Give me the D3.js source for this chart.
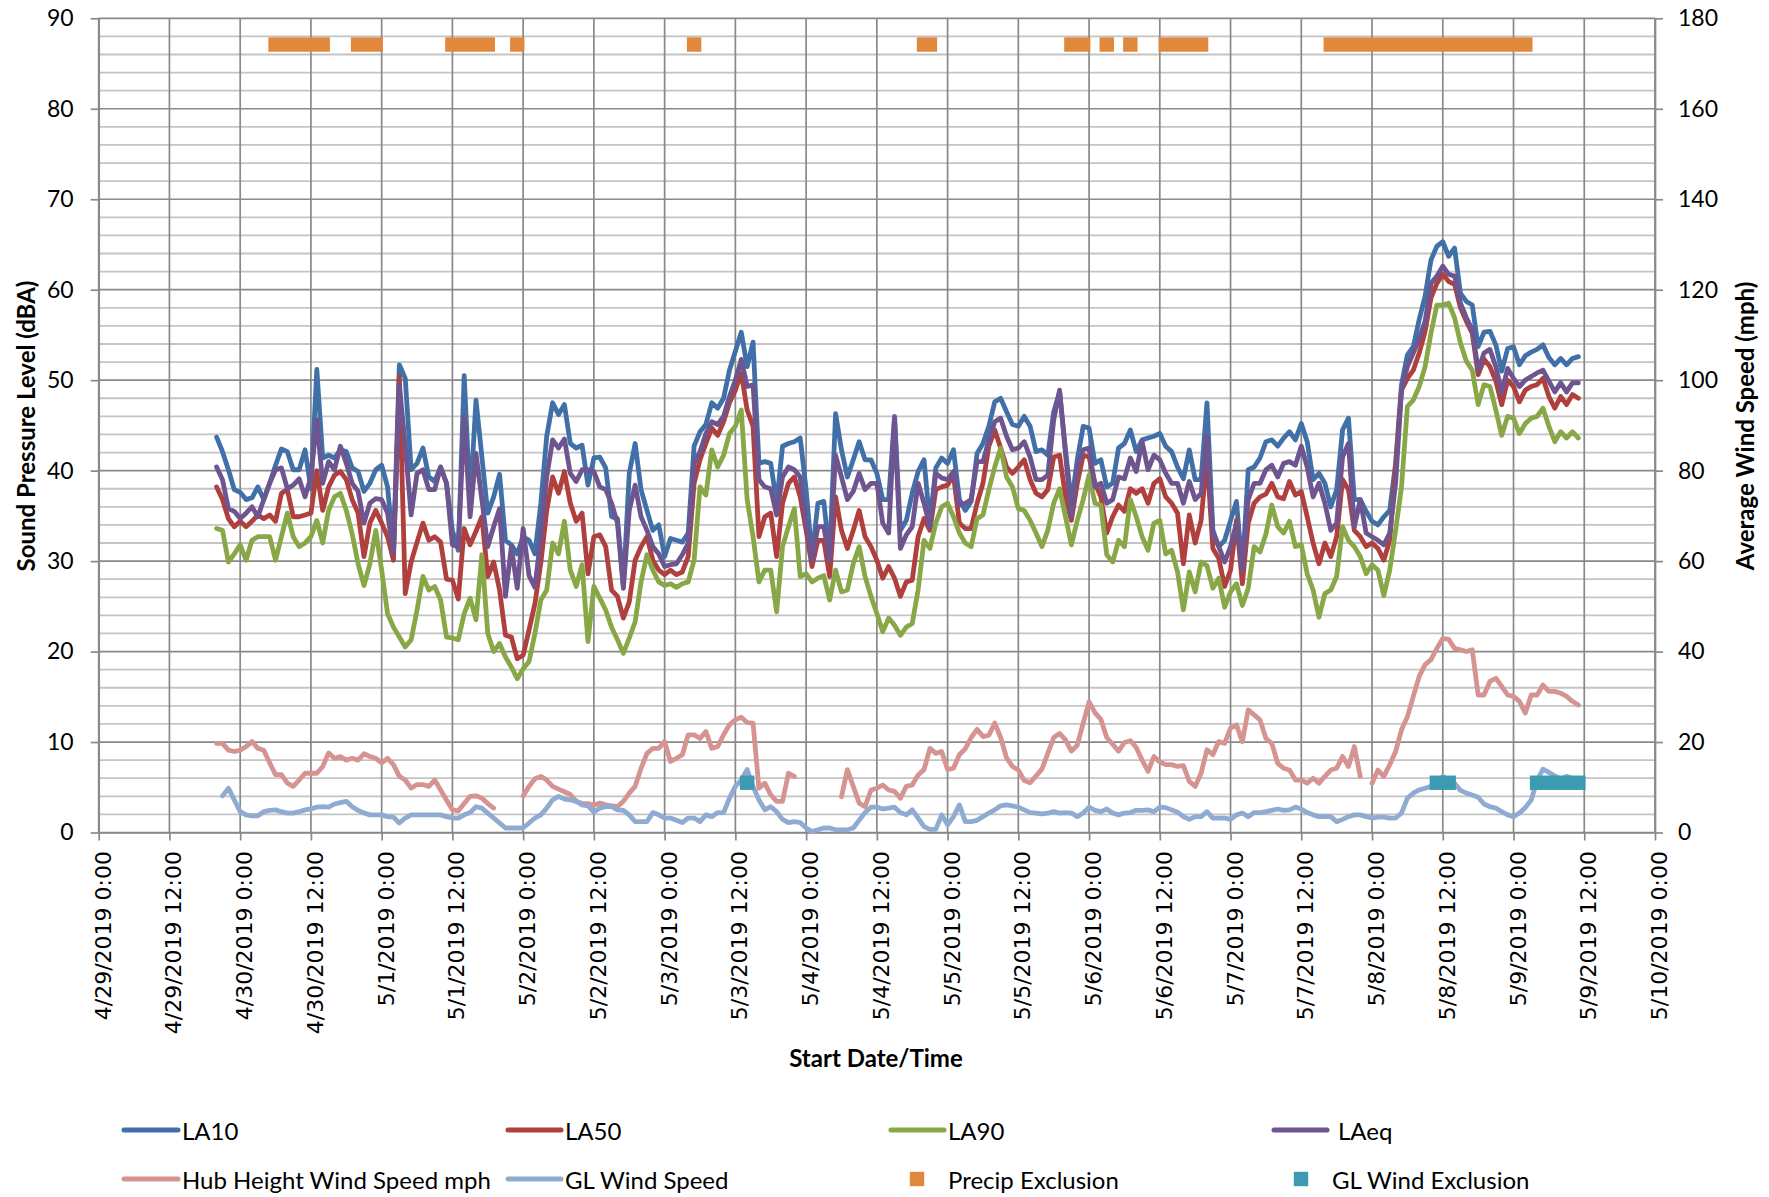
<!DOCTYPE html>
<html><head><meta charset="utf-8">
<script src="https://cdn.jsdelivr.net/npm/d3@7"></script>
<style>body{margin:0;background:#fff}svg{display:block}</style>
</head><body>
<svg id="c" width="1769" height="1197"></svg>
<script>
// ---------------- DATA ----------------
const seriesStart = "4/29/2019 20:00"; // first hourly sample
const xTickLabels = ["4/29/2019 0:00","4/29/2019 12:00","4/30/2019 0:00","4/30/2019 12:00","5/1/2019 0:00","5/1/2019 12:00","5/2/2019 0:00","5/2/2019 12:00","5/3/2019 0:00","5/3/2019 12:00","5/4/2019 0:00","5/4/2019 12:00","5/5/2019 0:00","5/5/2019 12:00","5/6/2019 0:00","5/6/2019 12:00","5/7/2019 0:00","5/7/2019 12:00","5/8/2019 0:00","5/8/2019 12:00","5/9/2019 0:00","5/9/2019 12:00","5/10/2019 0:00"];
const leftTicks = [0,10,20,30,40,50,60,70,80,90];
const rightTicks = [0,20,40,60,80,100,120,140,160,180];

const la10 = [43.7,42.1,40.1,37.9,37.6,36.8,37.0,38.2,36.8,38.6,40.6,42.4,
42.1,40.1,40.1,42.3,38.0,51.2,41.4,41.7,41.4,42.3,42.1,40.3,
39.9,37.7,38.6,40.1,40.6,38.2,31.2,51.7,50.2,40.1,40.8,42.5,
39.3,38.8,40.4,38.6,33.4,31.2,50.5,36.4,47.8,41.5,35.3,37.1,
39.6,32.3,31.8,30.8,32.7,32.3,30.8,36.4,43.8,47.5,46.2,47.3,
43.0,42.5,42.8,38.4,41.4,41.5,40.3,34.9,34.7,27.2,39.7,43.0,
37.9,35.6,33.4,34.0,30.5,32.5,32.3,32.1,33.1,42.7,44.3,45.1,
47.5,46.9,48.0,51.1,53.2,55.3,51.5,54.2,40.8,41.0,40.8,36.4,
42.7,43.0,43.2,43.6,37.9,30.5,36.4,36.6,30.5,46.3,42.3,39.3,
41.2,43.2,41.2,41.2,39.7,36.8,36.8,46.0,33.4,34.5,37.5,39.9,
41.2,34.2,40.3,41.4,40.8,42.3,36.8,35.6,36.6,41.9,43.0,44.9,
47.6,48.0,46.5,45.1,44.9,46.0,44.9,42.1,42.3,41.7,46.5,48.7,
42.3,36.4,41.2,44.9,44.7,40.8,41.2,38.2,38.6,42.5,43.0,44.5,
42.1,43.4,43.6,43.8,44.1,42.7,42.1,40.4,39.1,42.3,39.0,39.0,
47.5,33.4,31.6,32.3,34.5,36.6,29.0,40.1,40.4,41.4,43.2,43.4,
42.7,43.6,44.3,43.4,45.2,43.2,39.0,39.7,38.6,36.0,37.9,44.5,
45.8,36.8,36.8,35.5,34.4,34.0,34.9,35.6,40.8,49.5,52.8,53.7,
56.7,59.3,63.3,64.8,65.3,63.7,64.6,59.6,58.7,58.3,53.7,55.3,
55.4,53.9,51.0,53.5,53.7,51.7,52.7,53.1,53.4,53.9,52.5,51.7,
52.4,51.7,52.4,52.6];

const la50 = [38.2,36.8,34.7,33.8,34.4,33.8,34.4,35.1,34.7,35.1,34.4,37.5,
37.9,34.9,34.9,35.1,35.3,40.0,35.6,38.2,39.5,39.9,39.0,36.8,
35.3,30.5,34.2,35.6,34.2,32.7,30.1,50.4,26.4,29.9,32.1,34.2,
32.3,32.7,32.1,28.0,27.9,25.8,33.6,31.8,33.3,34.9,28.3,29.9,
26.8,21.8,21.6,19.2,19.6,22.4,25.3,29.8,35.6,39.3,37.5,39.9,
36.4,34.4,35.3,28.6,32.7,32.9,31.6,26.8,26.1,23.7,25.5,30.1,
31.6,32.7,30.1,29.0,28.5,29.0,28.5,28.8,30.5,38.6,41.2,43.0,
44.7,43.9,45.4,47.5,48.9,50.8,46.7,44.9,32.7,34.9,35.3,30.5,
36.4,38.6,39.3,37.1,33.4,29.4,32.3,32.3,28.3,37.1,33.4,31.4,
33.4,35.6,32.7,31.6,30.1,28.1,29.4,28.1,26.1,27.7,27.9,32.7,
34.7,33.4,37.9,38.2,38.4,39.5,34.2,33.6,33.6,36.4,38.6,42.7,
44.5,42.5,40.4,39.7,40.4,41.2,39.0,37.5,37.1,37.9,41.5,41.7,
37.1,34.5,38.6,41.7,41.5,38.6,37.1,33.1,34.9,36.2,35.5,38.0,
37.5,38.0,36.4,38.6,39.1,37.1,36.4,35.3,29.7,35.1,32.0,34.5,
41.5,31.4,30.3,27.2,29.0,34.5,27.5,34.2,36.4,37.1,37.4,38.6,
37.1,36.9,38.8,37.3,37.7,34.9,32.0,29.7,32.0,30.5,32.7,39.0,
37.9,33.4,32.7,31.6,32.0,31.4,30.1,32.3,40.4,48.9,50.2,51.1,
53.0,55.4,59.1,60.7,61.7,60.9,60.6,58.0,56.5,55.2,50.6,52.3,
51.5,49.9,47.3,50.0,49.3,47.6,48.9,49.3,49.5,50.2,48.2,46.9,
48.2,47.3,48.4,48.0];

const la90 = [33.6,33.4,29.9,30.8,31.8,30.1,32.3,32.7,32.7,32.7,30.1,32.7,
35.3,32.7,31.6,32.0,32.7,34.5,32.0,35.6,37.1,37.5,35.6,33.0,
29.7,27.3,29.7,33.4,29.0,24.2,22.7,21.6,20.5,21.3,24.6,28.3,
26.8,27.2,25.7,21.6,21.5,21.3,24.2,25.9,23.5,30.7,22.0,20.0,
20.9,19.4,18.3,17.0,18.1,18.9,22.0,25.7,26.8,32.0,30.8,34.4,
29.0,27.2,29.6,21.1,27.2,25.9,24.6,22.7,21.3,19.8,21.5,23.3,
27.7,30.7,29.0,27.7,27.3,27.5,27.1,27.5,27.7,30.1,38.2,37.3,
42.3,40.4,41.7,44.1,44.9,46.7,36.8,32.7,27.7,29.0,29.0,24.4,
31.6,33.8,35.8,28.3,28.6,27.7,28.1,28.4,25.7,29.0,26.6,26.8,
29.7,31.6,28.3,26.1,24.2,22.2,23.7,22.9,21.8,22.7,23.1,26.8,
32.3,31.4,34.2,36.0,36.4,34.9,33.1,32.0,31.6,34.7,35.1,37.9,
40.4,42.5,39.3,38.2,35.8,35.6,34.5,33.1,31.6,33.4,36.4,38.0,
34.9,31.8,34.5,36.8,39.5,36.4,36.2,30.7,29.9,32.3,31.6,36.8,
34.9,32.7,31.2,34.2,34.5,30.8,31.2,28.8,24.6,28.8,26.6,29.9,
29.5,27.0,28.1,24.9,26.6,27.5,25.1,27.0,31.6,31.0,33.0,36.2,
33.8,33.1,34.4,31.6,31.8,28.6,26.8,23.8,26.4,26.8,28.3,33.8,
32.3,31.6,30.5,28.6,29.6,29.0,26.2,29.0,33.4,38.2,47.1,47.8,
49.3,51.5,55.2,58.3,58.3,58.5,56.9,54.1,52.1,51.1,47.3,49.5,
49.3,46.7,43.9,46.0,45.8,44.1,45.2,45.8,46.0,46.9,44.9,43.2,
44.3,43.6,44.3,43.6];

const laeq = [40.4,39.0,35.8,35.5,34.7,35.3,36.0,34.9,36.8,38.6,40.1,40.3,
38.0,38.4,39.1,37.1,39.3,45.6,38.6,41.0,40.1,42.7,40.8,38.6,
37.7,34.2,36.4,36.9,36.8,35.3,30.8,49.5,42.7,35.1,39.7,40.1,
37.9,37.9,40.4,38.6,31.8,31.6,46.0,34.9,41.9,36.8,31.6,33.8,
35.8,26.1,31.6,27.0,33.6,28.4,27.1,32.7,39.3,43.4,42.5,43.5,
39.7,38.8,40.1,40.1,39.9,38.2,37.9,36.4,34.2,27.0,35.6,38.4,
34.9,33.4,31.6,30.8,29.4,29.6,29.7,30.7,32.0,40.8,42.1,44.1,
45.4,45.1,46.0,48.2,50.0,52.3,49.3,49.5,39.0,38.2,38.0,35.1,
39.3,40.4,40.1,39.3,34.2,30.1,33.8,33.8,30.1,41.7,39.3,36.8,
37.7,39.7,37.9,38.6,38.6,34.2,33.1,45.8,31.4,32.9,33.8,38.6,
36.4,33.8,39.7,39.2,39.0,39.9,36.2,36.4,36.8,41.0,41.0,43.4,
45.4,45.8,43.8,42.3,42.5,43.2,41.5,39.0,39.0,39.5,45.6,48.9,
41.9,34.9,40.4,42.3,42.5,38.2,38.6,36.4,36.8,39.3,39.1,41.4,
39.9,43.2,40.1,41.7,41.2,39.7,38.6,38.6,36.4,38.8,36.8,37.5,
43.8,33.1,31.6,29.9,31.6,34.2,29.0,36.8,38.6,38.6,40.1,40.6,
39.3,40.8,41.0,40.6,42.7,40.4,37.1,38.6,36.4,33.4,34.2,41.5,
43.0,33.8,36.8,33.1,32.7,32.3,31.8,33.1,38.6,48.9,51.5,53.0,
54.6,56.5,60.7,61.5,62.6,61.7,61.5,58.5,56.9,55.6,51.1,53.0,
53.4,51.5,48.6,51.3,50.2,49.3,50.0,50.4,50.8,51.1,49.9,48.7,
49.7,48.7,49.7,49.7];

// wind speeds in mph (right axis); null = no data
const hubWind = [19.7,19.7,18.2,17.9,18.2,19.0,20.1,18.6,18.2,15.4,12.8,12.8,
10.9,10.2,11.6,13.1,13.1,13.1,14.6,17.6,16.4,16.8,16.0,16.4,
16.0,17.4,16.8,16.4,15.4,16.4,15.0,12.4,11.6,9.8,10.6,10.6,
10.2,11.6,9.4,7.2,5.0,4.8,6.4,8.0,8.1,7.6,6.4,5.4,
null,null,null,null,8.1,10.2,11.9,12.4,11.6,10.2,9.6,9.0,
8.4,6.9,6.4,6.4,6.0,6.5,6.1,5.9,5.7,6.9,8.7,10.2,
14.2,17.5,18.6,18.6,20.1,15.7,16.4,17.2,21.6,21.6,20.8,22.3,
18.6,19.0,21.6,23.8,24.9,25.5,24.3,24.2,9.8,10.9,8.3,6.9,
6.9,13.1,12.4,null,null,null,null,null,null,null,7.9,13.9,
10.2,6.5,5.7,9.4,9.8,10.5,9.4,9.1,7.6,10.2,10.5,12.7,
13.9,18.6,17.5,17.9,13.9,14.2,17.2,18.5,21.0,22.8,21.2,21.5,
24.2,21.0,16.5,14.6,13.8,11.5,11.0,12.5,14.0,17.5,21.0,21.9,
20.5,18.0,19.3,24.2,28.9,26.5,25.0,21.0,19.5,18.0,19.9,20.3,
18.8,16.0,13.5,16.8,15.6,15.0,15.0,14.6,14.8,11.3,10.2,13.1,
18.3,17.2,20.1,19.7,23.1,23.8,20.1,27.1,26.0,24.9,20.8,19.7,
15.3,14.2,13.8,11.6,11.6,10.9,12.0,10.9,12.4,13.8,14.2,16.8,
14.6,19.0,12.4,null,10.9,13.8,12.4,15.0,17.9,22.7,25.6,30.1,
34.5,37.1,38.2,40.7,42.9,42.7,40.7,40.4,40.0,40.4,30.4,30.4,
33.4,34.1,32.3,30.4,30.1,29.0,26.4,30.4,30.4,32.6,31.2,31.2,
30.8,30.1,29.0,28.2];

const glWind = [null,8.1,9.8,7.2,4.6,3.9,3.7,3.7,4.6,4.9,5.0,4.6,
4.3,4.3,4.6,5.0,5.2,5.6,5.7,5.6,6.3,6.6,6.9,5.7,
4.9,4.3,3.9,3.9,3.9,3.5,3.4,2.1,3.2,3.9,3.9,3.9,
3.9,3.9,3.9,3.5,3.2,3.2,3.9,4.4,5.7,5.4,4.3,3.2,
2.1,1.0,1.0,1.0,1.0,2.1,3.2,3.9,5.4,7.2,8.0,7.4,
7.2,6.9,6.1,5.9,4.5,5.4,5.7,5.7,5.0,4.9,3.9,2.4,
2.4,2.4,4.4,3.9,3.2,3.2,2.7,2.2,3.2,3.2,2.4,3.9,
3.5,4.4,4.4,7.6,10.2,11.6,13.9,10.2,7.2,5.0,5.7,4.6,
2.9,2.2,2.4,2.2,1.0,0.2,0.6,1.0,1.0,0.6,0.6,0.6,
1.0,2.7,4.4,5.6,5.6,5.2,5.4,5.6,4.4,3.9,5.0,3.2,
1.3,0.7,0.7,3.9,1.7,3.5,6.1,2.4,2.4,2.7,3.5,4.3,
5.0,5.9,6.1,5.9,5.6,5.0,4.4,4.3,4.1,4.3,4.6,4.3,
4.4,4.3,3.5,4.3,5.6,4.9,4.6,5.2,4.3,3.9,4.3,4.4,
4.9,4.9,5.0,4.6,5.6,5.5,5.0,4.5,3.5,2.9,3.5,3.5,
4.6,3.2,3.2,3.2,2.9,3.9,4.3,3.5,4.4,4.4,4.6,4.9,
5.2,4.9,5.0,5.6,5.2,4.4,3.9,3.5,3.5,3.5,2.4,2.9,
3.5,3.9,3.9,3.5,3.2,3.4,3.4,3.2,3.2,4.3,7.6,8.7,
9.4,9.8,10.2,10.3,12.4,11.6,10.9,9.3,8.7,8.3,7.8,6.3,
5.7,5.4,4.6,3.9,3.5,4.3,5.5,7.2,11.5,14.0,13.3,12.5,
11.8,12.4,12.0,11.6];

// exclusion flags (hourly markers at a fixed level)
const precipLevel = 87.1;   // dBA, left axis
const glExclLevel = 11.0;   // mph, right axis
const precipPeriods = [["4/30/2019 6:00","4/30/2019 14:00"],["4/30/2019 20:00","4/30/2019 23:00"],["5/1/2019 12:00","5/1/2019 18:00"],["5/1/2019 23:00","5/1/2019 23:00"],["5/3/2019 5:00","5/3/2019 5:00"],["5/4/2019 20:00","5/4/2019 21:00"],["5/5/2019 21:00","5/5/2019 23:00"],["5/6/2019 3:00","5/6/2019 3:00"],["5/6/2019 7:00","5/6/2019 7:00"],["5/6/2019 13:00","5/6/2019 19:00"],["5/7/2019 17:00","5/9/2019 2:00"]];
const glExclPeriods = [["5/3/2019 14:00","5/3/2019 14:00"],["5/8/2019 11:00","5/8/2019 13:00"],["5/9/2019 4:00","5/9/2019 11:00"]];

// ---------------- CHART ----------------
const L = 98.7, R = 1655, T = 18.3, B = 832.5;
const svg = d3.select("#c");
const parse = d3.timeParse("%m/%d/%Y %H:%M");
const xDates = xTickLabels.map(parse);
const t0 = parse(seriesStart);
const times = la10.map((_, i) => d3.timeHour.offset(t0, i));

const x = d3.scaleTime().domain([xDates[0], xDates[xDates.length - 1]]).range([L, R]);
const yL = d3.scaleLinear().domain([0, 90]).range([B, T]);
const yR = d3.scaleLinear().domain([0, 180]).range([B, T]);

const gridMajor = "#898989", gridMinor = "#c4c4c4";
const grid = svg.append("g");
const minorVals = d3.range(2, 90, 2).filter(v => v % 10 !== 0);
grid.selectAll("line.mn").data(minorVals).join("line").attr("class", "mn")
  .attr("x1", L).attr("x2", R).attr("y1", d => yL(d)).attr("y2", d => yL(d))
  .attr("stroke", gridMinor).attr("stroke-width", 1.8);
grid.selectAll("line.mj").data(leftTicks).join("line").attr("class", "mj")
  .attr("x1", L).attr("x2", R).attr("y1", d => yL(d)).attr("y2", d => yL(d))
  .attr("stroke", gridMajor).attr("stroke-width", 1.7);
grid.selectAll("line.vg").data(xDates).join("line").attr("class", "vg")
  .attr("x1", d => x(d)).attr("x2", d => x(d)).attr("y1", T).attr("y2", B)
  .attr("stroke", gridMajor).attr("stroke-width", 1.7);

function styleAxis(g, size, family) {
  g.attr("font-size", size).attr("font-family", family);
  g.select(".domain").attr("stroke", gridMajor).attr("stroke-width", 1.7);
  g.selectAll(".tick line").attr("stroke", gridMajor).attr("stroke-width", 1.7);
  g.selectAll(".tick text").attr("fill", "#000");
}
const gL = svg.append("g").attr("transform", `translate(${L},0)`)
  .call(d3.axisLeft(yL).tickValues(leftTicks).tickSize(8).tickSizeOuter(0).tickPadding(17));
styleAxis(gL, 23, "Lato, 'Open Sans', sans-serif");
const gR = svg.append("g").attr("transform", `translate(${R},0)`)
  .call(d3.axisRight(yR).tickValues(rightTicks).tickSize(8).tickSizeOuter(0).tickPadding(15));
styleAxis(gR, 23, "Lato, 'Open Sans', sans-serif");
const gB = svg.append("g").attr("transform", `translate(0,${B})`)
  .call(d3.axisBottom(x).tickValues(xDates).tickSize(8).tickSizeOuter(0).tickFormat((d, i) => xTickLabels[i]));
styleAxis(gB, 22, "'DejaVu Sans', Verdana, sans-serif");
gB.selectAll(".tick text")
  .attr("x", 0).attr("y", 0).attr("dy", null)
  .attr("text-anchor", "end").attr("dominant-baseline", "central")
  .attr("transform", "translate(4,18.5) rotate(-90)");

// titles
const titleFont = "Lato, 'Open Sans', sans-serif";
svg.append("text").attr("x", 876).attr("y", 1057).attr("text-anchor", "middle")
  .attr("dominant-baseline", "central").attr("font-family", titleFont).attr("font-weight", "bold")
  .attr("font-size", 24).text("Start Date/Time");
svg.append("text").attr("transform", "translate(25,426) rotate(-90)").attr("text-anchor", "middle")
  .attr("dominant-baseline", "central").attr("font-family", titleFont).attr("font-weight", "bold")
  .attr("font-size", 24).text("Sound Pressure Level (dBA)");
svg.append("text").attr("transform", "translate(1744,426) rotate(-90)").attr("text-anchor", "middle")
  .attr("dominant-baseline", "central").attr("font-family", titleFont).attr("font-weight", "bold")
  .attr("font-size", 24).text("Average Wind Speed (mph)");

// series
const colors = {
  la10: "#4170a8", la50: "#b0403d", la90: "#88a847", laeq: "#6e5590",
  hub: "#d59391", gl: "#90abd2", precip: "#e0883c", glx: "#3c9bb0"
};
function drawLine(values, yScale, color) {
  const pts = values.map((v, i) => ({ t: times[i], v }));
  const line = d3.line().defined(d => d.v != null).x(d => x(d.t)).y(d => yScale(d.v));
  svg.append("path").datum(pts).attr("d", line).attr("fill", "none")
    .attr("stroke", color).attr("stroke-width", 4.8)
    .attr("stroke-linejoin", "round").attr("stroke-linecap", "round");
}
drawLine(la10, yL, colors.la10);
drawLine(la50, yL, colors.la50);
drawLine(la90, yL, colors.la90);
drawLine(laeq, yL, colors.laeq);
drawLine(hubWind, yR, colors.hub);
drawLine(glWind, yR, colors.gl);

const half = 7.2;
function drawPeriods(periods, yPos, color) {
  svg.append("g").selectAll("rect").data(periods).join("rect")
    .attr("x", d => x(parse(d[0])) - half)
    .attr("width", d => x(parse(d[1])) - x(parse(d[0])) + 2 * half)
    .attr("y", yPos - half).attr("height", 2 * half)
    .attr("fill", color);
}
drawPeriods(precipPeriods, yL(precipLevel), colors.precip);
drawPeriods(glExclPeriods, yR(glExclLevel), colors.glx);

// legend
const legFont = "Lato, 'Open Sans', sans-serif";
const legend = [
  { name: "LA10", type: "line", c: colors.la10, x1: 124, x2: 178, tx: 182, y: 1130 },
  { name: "LA50", type: "line", c: colors.la50, x1: 508, x2: 561, tx: 565, y: 1130 },
  { name: "LA90", type: "line", c: colors.la90, x1: 891, x2: 944, tx: 948, y: 1130 },
  { name: "LAeq", type: "line", c: colors.laeq, x1: 1274, x2: 1327, tx: 1338, y: 1130 },
  { name: "Hub Height Wind Speed mph", type: "line", c: colors.hub, x1: 124, x2: 178, tx: 182, y: 1179 },
  { name: "GL Wind Speed", type: "line", c: colors.gl, x1: 508, x2: 561, tx: 565, y: 1179 },
  { name: "Precip Exclusion", type: "mark", c: colors.precip, cx: 917, tx: 948, y: 1179 },
  { name: "GL Wind Exclusion", type: "mark", c: colors.glx, cx: 1301, tx: 1332, y: 1179 }
];
const lg = svg.append("g");
legend.forEach(d => {
  if (d.type === "line") {
    lg.append("line").attr("x1", d.x1).attr("x2", d.x2).attr("y1", d.y).attr("y2", d.y)
      .attr("stroke", d.c).attr("stroke-width", 5).attr("stroke-linecap", "round");
  } else {
    lg.append("rect").attr("x", d.cx - half).attr("y", d.y - half)
      .attr("width", 2 * half).attr("height", 2 * half).attr("fill", d.c);
  }
  lg.append("text").attr("x", d.tx).attr("y", d.y).attr("dominant-baseline", "central")
    .attr("font-family", legFont).attr("font-size", 24).attr("fill", "#000").text(d.name);
});
</script>
</body></html>
